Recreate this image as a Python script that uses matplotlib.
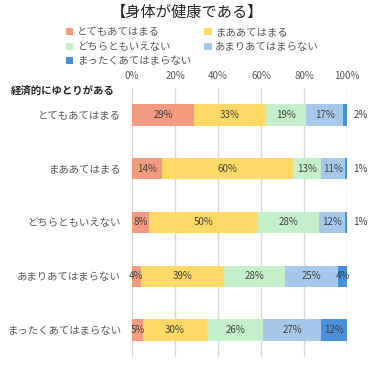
import matplotlib
matplotlib.use("Agg")
import matplotlib.pyplot as plt
import numpy as np

plt.rcParams['font.family'] = ['Noto Sans CJK JP', 'DejaVu Sans']

title = '【身体が健康である】'
axis_title = '経済的にゆとりがある'
categories = ['とてもあてはまる', 'まああてはまる', 'どちらともいえない',
              'あまりあてはまらない', 'まったくあてはまらない']
series = ['とてもあてはまる', 'まああてはまる', 'どちらともいえない',
          'あまりあてはまらない', 'まったくあてはまらない']
colors = ['#F39B7E', '#FFD966', '#C4EFCB', '#A6C8EB', '#4A90D9']

# rows = categories, cols = series (percent)
values = np.array([
    [29, 33, 19, 17, 2],
    [14, 60, 13, 11, 1],
    [8, 50, 28, 12, 1],
    [4, 39, 28, 25, 4],
    [5, 30, 26, 27, 12],
], dtype=float)

# 100% stacked
shares = values / values.sum(axis=1, keepdims=True) * 100

fig = plt.figure(figsize=(3.74, 3.65), dpi=100)
ax = fig.add_axes([0.353, 0.022, 0.575, 0.737])

y = np.arange(len(categories))
left = np.zeros(len(categories))
handles = []
for j, name in enumerate(series):
    b = ax.barh(y, shares[:, j], left=left, height=0.4, color=colors[j],
                label=name, zorder=2)
    handles.append(b)
    for i in range(len(categories)):
        v = values[i, j]
        cx = left[i] + shares[i, j] / 2
        if j == len(series) - 1 and v <= 2:
            ax.text(103, y[i], f'{v:.0f}%', ha='left', va='center',
                    fontsize=7, color='#404040', clip_on=False)
        else:
            ax.text(cx, y[i], f'{v:.0f}%', ha='center', va='center',
                    fontsize=7, color='#404040')
    left += shares[:, j]

ax.set_xlim(0, 100)
ax.set_ylim(len(categories) - 0.5, -0.5)
ax.set_xticks(np.arange(0, 101, 20))
ax.set_xticklabels([f'{t}%' for t in range(0, 101, 20)])
ax.xaxis.tick_top()
ax.tick_params(axis='x', length=0, labelsize=7, colors='#595959', pad=5)
ax.set_yticks(y)
ax.set_yticklabels(categories)
ax.tick_params(axis='y', length=0, labelsize=7.5, colors='#595959', pad=8)
ax.grid(axis='x', color='#D9D9D9', linewidth=1, zorder=0)
for s in ax.spines.values():
    s.set_visible(False)

fig.text(0.5, 0.965, title, ha='center', va='center', fontsize=11,
         color='#262626')
fig.text(0.03, 0.753, axis_title, ha='left', va='center', fontsize=7.5,
         fontweight='bold', color='#262626')

order = [0, 2, 4, 1, 3]
fig.legend([handles[k] for k in order], [series[k] for k in order],
           ncol=2, loc='upper left', bbox_to_anchor=(0.162, 0.94),
           frameon=False, fontsize=7.5, handlelength=0.7, handleheight=0.7,
           handletextpad=0.35, columnspacing=1.3, labelspacing=0.45,
           labelcolor='#595959', borderpad=0)

fig.savefig('out.png', dpi=100)
